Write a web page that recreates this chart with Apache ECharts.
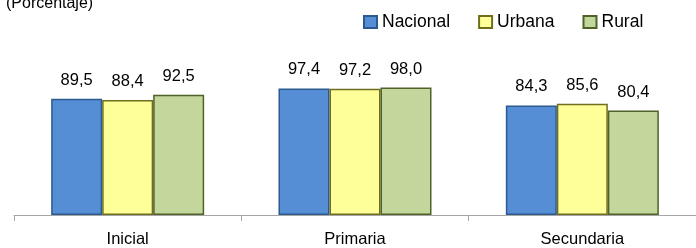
<!DOCTYPE html>
<html><head><meta charset="utf-8">
<script src="https://cdn.jsdelivr.net/npm/echarts@6/dist/echarts.min.js"></script>
<style>html,body{margin:0;padding:0;background:#fff}#c{width:696px;height:248px}</style>
</head><body><div id="c"></div>
<script>
const categories = ['Inicial', 'Primaria', 'Secundaria'];
const seriesNames = ['Nacional', 'Urbana', 'Rural'];
const nacional = [89.5, 97.4, 84.3];
const urbana = [88.4, 97.2, 85.6];
const rural = [92.5, 98.0, 80.4];
const titleText = '(Porcentaje)';

const FONT = '"Liberation Sans", Arial, sans-serif';
const fills = ['#558ED5', '#FFFF99', '#C3D69B'];
const borders = ['#2C5A8F', '#6E6E1E', '#4F6228'];
const values = [nacional, urbana, rural];

const chart = echarts.init(document.getElementById('c'), null, {renderer: 'canvas'});
chart.setOption({
  animation: false,
  textStyle: {fontFamily: FONT, color: '#000'},
  title: {text: titleText, left: 6, top: -4, padding: 0,
    textStyle: {fontFamily: FONT, fontSize: 16, fontWeight: 'normal', color: '#000'}},
  legend: {top: 13, left: 363, padding: 0, itemWidth: 13, itemHeight: 12, itemGap: 28,
    icon: 'rect', textStyle: {fontFamily: FONT, fontSize: 17.5, color: '#000'},
    data: seriesNames},
  grid: {left: 14, top: 85, width: 690, height: 130, containLabel: false},
  xAxis: {type: 'category', data: categories,
    axisLine: {lineStyle: {color: '#A6A6A6', width: 1}},
    axisTick: {show: true, length: 6, lineStyle: {color: '#A6A6A6'}},
    axisLabel: {margin: 16, fontSize: 16.5, color: '#000', fontFamily: FONT}},
  yAxis: {type: 'value', min: 0, max: 100, show: false, splitLine: {show: false}},
  series: seriesNames.map((n, i) => ({
    name: n, type: 'bar', data: values[i], barGap: '0%', barWidth: 51,
    itemStyle: {color: fills[i], borderColor: borders[i], borderWidth: 1.5},
    label: {show: true, position: 'top', distance: 10, fontSize: 16.5, color: '#000', fontFamily: FONT,
      formatter: p => p.value.toFixed(1).replace('.', ',')}
  }))
});
</script></body></html>
